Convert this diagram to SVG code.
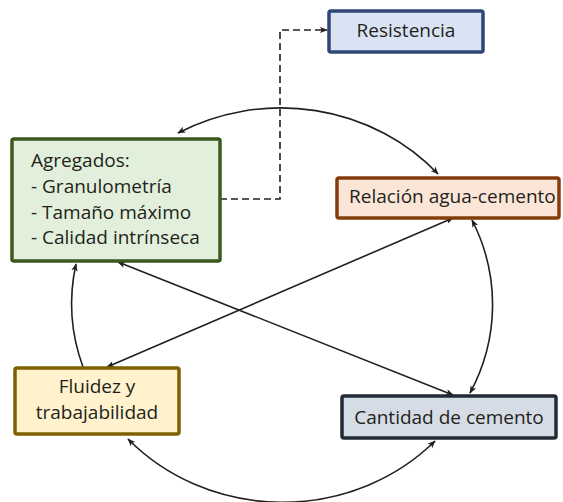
<svg xmlns="http://www.w3.org/2000/svg" width="563" height="502" viewBox="0 0 563 502">
<defs>
<marker id="ah" viewBox="0 0 10 10" refX="9" refY="5" markerWidth="8" markerHeight="8" markerUnits="userSpaceOnUse" orient="auto-start-reverse">
<path d="M0,1 L10,5 L0,9 L2.5,5 z" fill="#231f20"/>
</marker>
</defs>
<style>
.box{stroke-width:3.5}
.t{font-family:"Open Sans","Liberation Sans",Arial,sans-serif;font-size:19px;fill:#231f20}
.c{fill:none;stroke:#231f20;stroke-width:1.6}
</style>
<g id="connectors">
<path class="c" d="M220,199 H280 V30 H327" stroke-dasharray="7,4" marker-end="url(#ah)"/>
<path class="c" d="M178,133 A210,196 0 0 1 438,174" marker-start="url(#ah)" marker-end="url(#ah)"/>
<path class="c" d="M472,220 A210,196 0 0 1 470,393" marker-start="url(#ah)" marker-end="url(#ah)"/>
<path class="c" d="M435,441 A210,196 0 0 1 128,439" marker-start="url(#ah)" marker-end="url(#ah)"/>
<path class="c" d="M83,367 A210,196 0 0 1 76,264" marker-end="url(#ah)"/>
<path class="c" d="M453,218 L107,367" marker-start="url(#ah)" marker-end="url(#ah)"/>
<path class="c" d="M118,262 L453,395" marker-start="url(#ah)" marker-end="url(#ah)"/>
</g>
<g id="agregados">
<rect class="box" x="12" y="139" width="208" height="122" rx="2" fill="#e2efda" stroke="#3b5a22"/>
<text class="t" x="31" y="167">Agregados:</text>
<text class="t" x="31" y="193">- Granulometría</text>
<text class="t" x="31" y="219">- Tamaño máximo</text>
<text class="t" x="31" y="244">- Calidad intrínseca</text>
</g>
<g id="resistencia">
<rect class="box" x="329" y="11" width="154" height="41" rx="2" fill="#dae3f3" stroke="#2f4676"/>
<text class="t" x="406" y="37" text-anchor="middle">Resistencia</text>
</g>
<g id="relacion">
<rect class="box" x="337" y="178" width="222" height="40" rx="2" fill="#fbe5d6" stroke="#843c0c"/>
<text class="t" x="349" y="203">Relación agua-cemento</text>
</g>
<g id="cantidad">
<rect class="box" x="342" y="396" width="214" height="42" rx="2" fill="#d6dce5" stroke="#222a35"/>
<text class="t" x="449" y="424" text-anchor="middle">Cantidad de cemento</text>
</g>
<g id="fluidez">
<rect class="box" x="15" y="368" width="164" height="66" rx="2" fill="#fff2cc" stroke="#7f6000"/>
<text class="t" x="97" y="393" text-anchor="middle">Fluidez y</text>
<text class="t" x="97" y="419" text-anchor="middle">trabajabilidad</text>
</g>
</svg>
